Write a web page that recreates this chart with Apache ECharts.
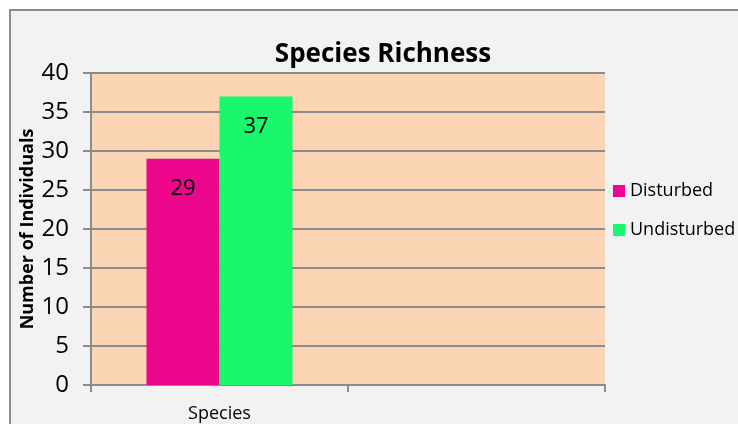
<!DOCTYPE html>
<html>
<head>
<meta charset="utf-8">
<script src="https://cdn.jsdelivr.net/npm/echarts@6/dist/echarts.min.js"></script>
<style>
  html, body { margin: 0; padding: 0; background: #ffffff; }
  #chart { width: 738px; height: 424px; }
</style>
</head>
<body>
<div id="chart"></div>
<script>
// 数据
const categories = ['Species', ''];
const disturbed = [29, null];
const undisturbed = [37, null];
const yTicks = [0, 5, 10, 15, 20, 25, 30, 35, 40];

const FONT = '"Open Sans", "Noto Sans", sans-serif';

const chart = echarts.init(document.getElementById('chart'));

const barLabel = {
  show: true,
  position: 'insideTop',
  distance: 19,
  color: '#000',
  fontSize: 22,
  fontFamily: FONT
};

chart.setOption({
  backgroundColor: '#ffffff',
  animation: false,
  graphic: [
    {
      type: 'rect',
      z: -10,
      shape: { x: 10, y: 10, width: 740, height: 430 },
      style: { fill: '#f2f2f2', stroke: '#8a8a8a', lineWidth: 2 }
    }
  ],
  title: {
    text: 'Species Richness',
    left: 378,
    textAlign: 'center',
    top: 37,
    textStyle: { fontSize: 26, fontWeight: 'bold', color: '#000', fontFamily: FONT }
  },
  legend: {
    orient: 'vertical',
    left: 608,
    top: 177,
    itemWidth: 12,
    itemHeight: 12,
    itemGap: 21,
    itemTextGap: 5,
    icon: 'rect',
    textStyle: { fontSize: 18, color: '#000', fontFamily: FONT },
    data: ['Disturbed', 'Undisturbed']
  },
  grid: {
    left: 91,
    top: 73,
    width: 514,
    height: 312,
    show: true,
    backgroundColor: '#fcd5b5',
    borderWidth: 0
  },
  xAxis: {
    type: 'category',
    data: categories,
    axisLine: { lineStyle: { color: '#8c8c8c', width: 2 } },
    axisTick: { show: true, length: 7, alignWithLabel: false, lineStyle: { color: '#8c8c8c', width: 2 } },
    axisLabel: { fontSize: 18, color: '#000', fontFamily: FONT, margin: 20 }
  },
  yAxis: {
    type: 'value',
    min: yTicks[0],
    max: yTicks[yTicks.length - 1],
    interval: 5,
    name: 'Number of Individuals',
    nameLocation: 'middle',
    nameGap: 54,
    nameMoveOverlap: false,
    nameTextStyle: { fontSize: 18, fontWeight: 'bold', color: '#000', fontFamily: FONT },
    axisLine: { show: true, lineStyle: { color: '#8c8c8c', width: 2 } },
    axisTick: { show: true, length: 8, lineStyle: { color: '#8c8c8c', width: 2 } },
    axisLabel: { fontSize: 24, color: '#000', fontFamily: FONT, margin: 22 },
    splitLine: { lineStyle: { color: '#8c8c8c', width: 2 } }
  },
  series: [
    {
      name: 'Disturbed',
      type: 'bar',
      data: disturbed,
      barWidth: 73,
      barGap: '0%',
      itemStyle: { color: '#ec068c' },
      label: barLabel
    },
    {
      name: 'Undisturbed',
      type: 'bar',
      data: undisturbed,
      barWidth: 73,
      itemStyle: { color: '#1af76c' },
      label: barLabel
    }
  ]
});
</script>
</body>
</html>
